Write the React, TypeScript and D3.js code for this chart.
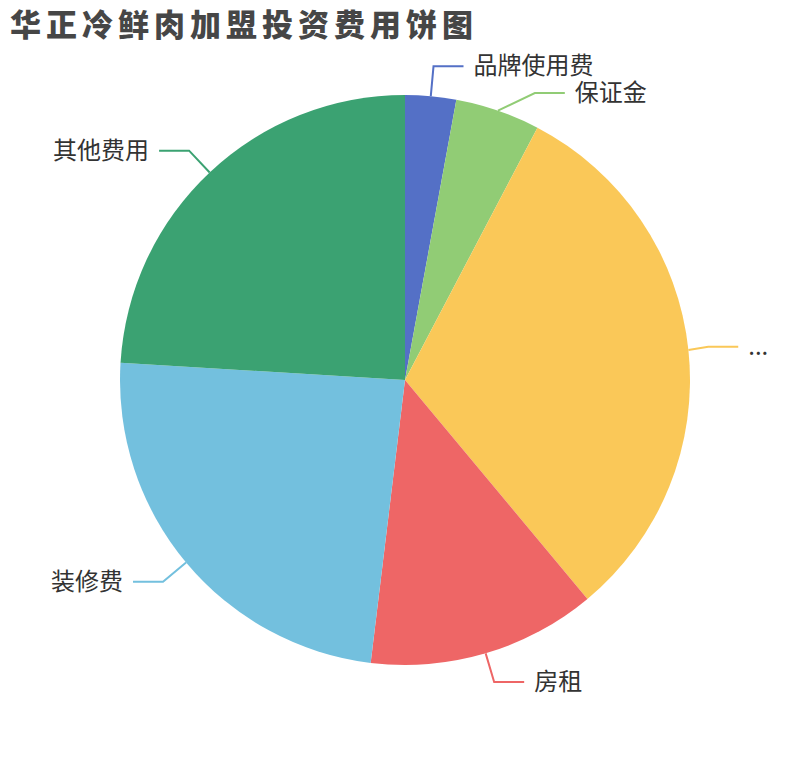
import React, { useRef, useEffect } from "react";
import * as d3 from "d3";

const names = ["品牌使用费", "保证金", "加盟费", "房租", "装修费", "其他费用"];
const values = [1.2, 2, 13, 5.4, 10, 10];
const colors = ["#5470c6", "#91cc75", "#fac858", "#ee6666", "#73c0de", "#3ba272"];
const title = "华正冷鲜肉加盟投资费用饼图";

const WIDTH = 810;
const HEIGHT = 760;

type Slice = { name: string; value: number; color: string };

export default function App() {
  const ref = useRef<SVGSVGElement | null>(null);

  useEffect(() => {
    if (!ref.current) return;
    const svg = d3.select(ref.current);
    svg.selectAll("*").remove();

    const cx = WIDTH / 2;
    const cy = HEIGHT / 2;
    const r = Math.min(WIDTH, HEIGHT) / 2 * 0.75;
    const len = 30;
    const len2 = 30;
    const gap = 10;
    const fontSize = 24;
    const labelH = 26.7;
    const bleed = 20;
    const font = "'Noto Sans CJK SC', 'Noto Sans', sans-serif";

    const data: Slice[] = names.map((n, i) => ({ name: n, value: values[i], color: colors[i] }));

    svg.append("text")
      .attr("x", 10)
      .attr("y", 36)
      .attr("fill", "#464646")
      .attr("font-family", font)
      .attr("font-weight", 900)
      .attr("font-size", 31)
      .attr("letter-spacing", 5)
      .text(title);

    const pie = d3.pie<Slice>().sort(null).value((d) => d.value);
    const arcs = pie(data);
    const arc = d3.arc<d3.PieArcDatum<Slice>>().innerRadius(0).outerRadius(r);

    const g = svg.append("g").attr("transform", `translate(${cx},${cy})`);
    g.selectAll("path")
      .data(arcs)
      .join("path")
      .attr("d", arc)
      .attr("fill", (d) => d.data.color);

    // label layout, roughly like echarts' outer labels
    const labels = arcs.map((a) => {
      const mid = (a.startAngle + a.endAngle) / 2;
      const s = Math.sin(mid);
      const c = Math.cos(mid);
      return {
        a,
        right: s >= 0,
        p0: [cx + r * s, cy - r * c],
        y: cy - (r + len) * c,
        tx: cx + (r + len) * s,
      };
    });

    [true, false].forEach((side) => {
      const list = labels.filter((l) => l.right === side).sort((p, q) => p.y - q.y);
      for (let i = 1; i < list.length; i++) {
        const prev = list[i - 1];
        if (list[i].y - prev.y < labelH) {
          list[i].y = prev.y + labelH;
          const dy = list[i].y - cy;
          const dx = Math.sqrt(Math.max(0, (r + len) ** 2 - dy * dy));
          list[i].tx = cx + (side ? dx : -dx);
        }
      }
    });

    const ctx = document.createElement("canvas").getContext("2d")!;
    ctx.font = `${fontSize}px ${font}`;

    labels.forEach((l) => {
      const dir = l.right ? 1 : -1;
      let tx = l.tx;
      let x3 = tx + dir * len2;
      let textX = x3 + dir * gap;
      const avail = l.right ? WIDTH - textX - bleed : textX - bleed;
      let txt = l.a.data.name;
      if (ctx.measureText(txt).width > avail) {
        let cut = txt;
        while (cut.length > 0 && ctx.measureText(cut + "...").width > avail) cut = cut.slice(0, -1);
        txt = cut + "...";
        // truncated labels sit a little closer to the pie
        tx -= dir * gap;
        x3 -= dir * gap;
        textX -= dir * gap;
      }

      svg.append("polyline")
        .attr("points", [l.p0, [tx, l.y], [x3, l.y]].map((p) => p.join(",")).join(" "))
        .attr("fill", "none")
        .attr("stroke", l.a.data.color)
        .attr("stroke-width", 2);

      svg.append("text")
        .attr("x", textX)
        .attr("y", l.y + fontSize * 0.33)
        .attr("text-anchor", l.right ? "start" : "end")
        .attr("fill", "#333")
        .attr("font-family", font)
        .attr("font-size", fontSize)
        .text(txt);
    });
  }, []);

  return (
    <svg
      ref={ref}
      width={WIDTH}
      height={HEIGHT}
      style={{ position: "absolute", left: 0, top: 0, background: "#fff" }}
    />
  );
}
